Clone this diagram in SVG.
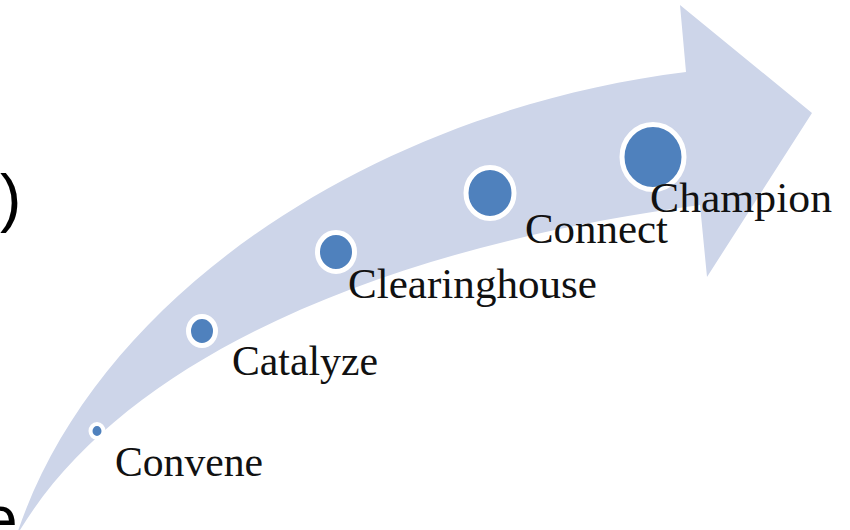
<svg xmlns="http://www.w3.org/2000/svg" width="850" height="530" viewBox="0 0 850 530">
  <style>
    .dot { fill: #4F81BD; stroke: #FFFFFF; stroke-width: 5; }
    .lbl { font-family: "Liberation Serif", "DejaVu Serif", serif; font-size: 42px; fill: #111111; }
    .frag { font-family: "Liberation Sans", Arial, sans-serif; font-size: 64px; fill: #000000; }
  </style>
  <rect width="850" height="530" fill="#FFFFFF"/>
  <text class="frag" x="0" y="220">)</text>
  <text class="frag" x="-18" y="541">e</text>
  <g id="arrow">
    <path d="M 18,531 C 100,290 380,110 686,72 L 680,5 L 812,113 L 707,277 L 700,205 C 400,245 130,350 20,530 Z" fill="#CDD5E9"/>
  </g>
  <g id="connectors"></g>
  <g id="convene">
    <ellipse class="dot" cx="97" cy="431" rx="6.5" ry="7" style="stroke-width:4"/>
    <text class="lbl" x="115" y="476" textLength="148" lengthAdjust="spacingAndGlyphs">Convene</text>
  </g>
  <g id="catalyze">
    <ellipse class="dot" cx="202" cy="331" rx="13.5" ry="14.5"/>
    <text class="lbl" x="232" y="375" textLength="146" lengthAdjust="spacingAndGlyphs">Catalyze</text>
  </g>
  <g id="clearinghouse">
    <ellipse class="dot" cx="336" cy="252" rx="18.5" ry="19.5"/>
    <text class="lbl" x="348" y="298" textLength="249" lengthAdjust="spacingAndGlyphs">Clearinghouse</text>
  </g>
  <g id="connect">
    <ellipse class="dot" cx="490" cy="193" rx="24" ry="25.5"/>
    <text class="lbl" x="525" y="243" textLength="143" lengthAdjust="spacingAndGlyphs">Connect</text>
  </g>
  <g id="champion">
    <ellipse class="dot" cx="653" cy="157" rx="31" ry="32.5"/>
    <text class="lbl" x="650" y="212" textLength="182" lengthAdjust="spacingAndGlyphs">Champion</text>
  </g>
</svg>
